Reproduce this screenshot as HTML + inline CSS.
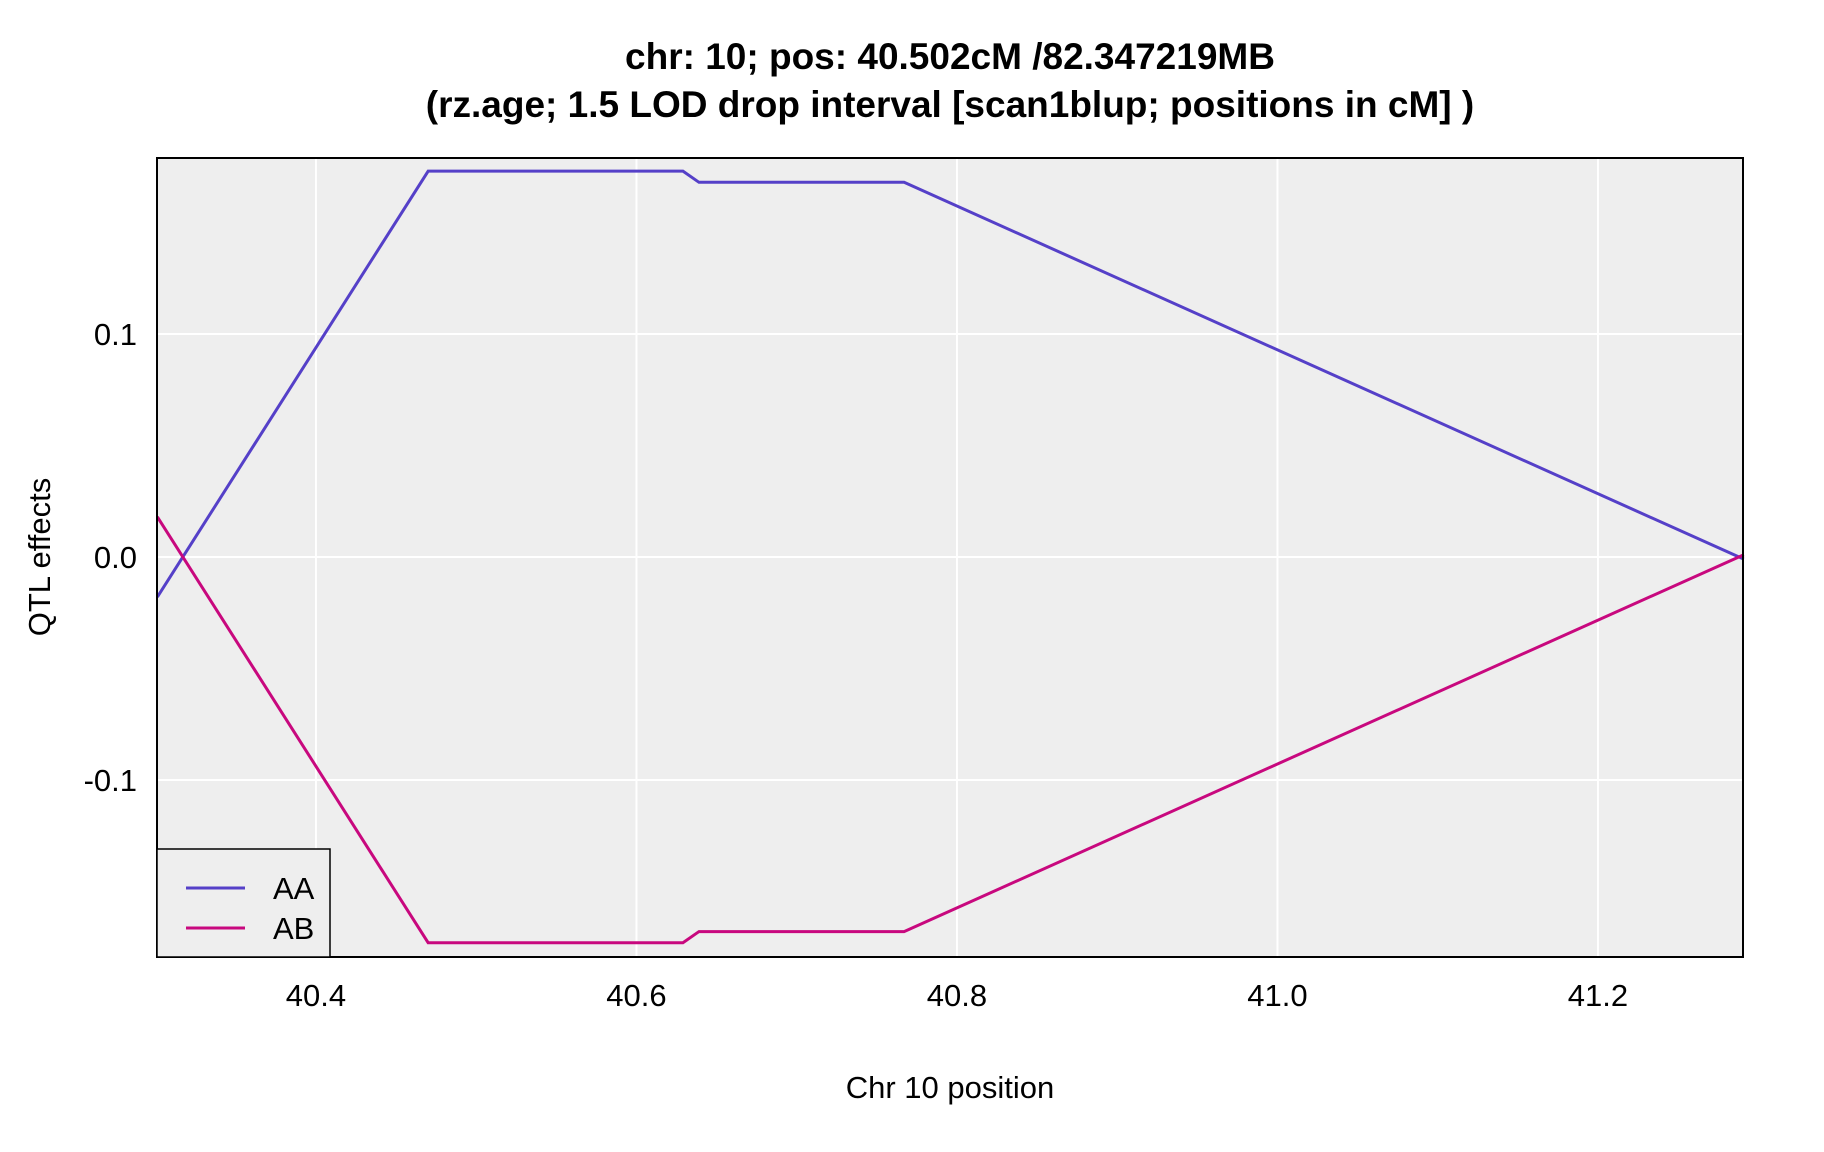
<!DOCTYPE html>
<html><head><meta charset="utf-8"><style>body{margin:0;background:#fff}svg{display:block;font-family:"Liberation Sans",Arial,sans-serif}</style></head>
<body>
<svg id="chart" width="1824" height="1152">
<text x="950" y="69" font-size="37" font-weight="bold" text-anchor="middle">chr: 10; pos: 40.502cM /82.347219MB</text>
<text x="950" y="117" font-size="37" font-weight="bold" text-anchor="middle">(rz.age; 1.5 LOD drop interval [scan1blup; positions in cM] )</text>
<rect x="157" y="158" width="1586" height="799" fill="#eeeeee"/>
<g id="grid"></g>
<g id="series"></g>
<rect x="157" y="158" width="1586" height="799" fill="none" stroke="#000" stroke-width="2"/>
<g id="axes"></g>
<text x="950" y="1098" font-size="31" text-anchor="middle">Chr 10 position</text>
<text transform="translate(50,557) rotate(-90)" font-size="31" text-anchor="middle">QTL effects</text>
<g>
<rect x="157" y="849" width="173" height="108" fill="#eeeeee" stroke="#000" stroke-width="1.5"/>
<line x1="186" y1="888" x2="245" y2="888" stroke="#5540c8" stroke-width="3"/>
<text x="273" y="899" font-size="31">AA</text>
<line x1="186" y1="928" x2="245" y2="928" stroke="#c8087e" stroke-width="3"/>
<text x="273" y="939" font-size="31">AB</text>
</g>
</svg>
<script>
const positions=[40.301,40.470,40.629,40.639,40.767,41.291];
const aaValues=[-0.018,0.173,0.173,0.168,0.168,-0.001];
const abValues=[0.018,-0.173,-0.173,-0.168,-0.168,0.001];
const xTicks=[40.4,40.6,40.8,41.0,41.2];
const xTickLabels=["40.4","40.6","40.8","41.0","41.2"];
const yTicks=[-0.1,0.0,0.1];
const yTickLabels=["-0.1","0.0","0.1"];
const X0=157,X1=1743,Y0=158,Y1=957,xmin=40.3008,xmax=41.2905,ymin=-0.1794,ymax=0.1789;
const sx=v=>X0+(v-xmin)/(xmax-xmin)*(X1-X0);
const sy=v=>Y1-(v-ymin)/(ymax-ymin)*(Y1-Y0);
const NS="http://www.w3.org/2000/svg";
const grid=document.getElementById('grid'),axes=document.getElementById('axes'),series=document.getElementById('series');
function mk(t,a){const e=document.createElementNS(NS,t);for(const k in a)e.setAttribute(k,a[k]);return e;}
xTicks.forEach((v,i)=>{
 const l=mk('line',{x1:sx(v),x2:sx(v),y1:Y0,y2:Y1,stroke:'#fff','stroke-width':2});
 
 
 grid.appendChild(l);
 const t=mk('text',{x:sx(v),y:1006,'font-size':31,'text-anchor':'middle'});
 t.textContent=xTickLabels[i];
 
 
 axes.appendChild(t);
});
yTicks.forEach((v,i)=>{
 const l=mk('line',{x1:X0,x2:X1,y1:sy(v),y2:sy(v),stroke:'#fff','stroke-width':2});
 
 
 grid.appendChild(l);
 const t=mk('text',{x:137,y:sy(v)+11,'font-size':31,'text-anchor':'end'});
 t.textContent=yTickLabels[i];
 
 
 axes.appendChild(t);
});
function line(vals,color,name){
 const p=mk('polyline',{points:positions.map((x,i)=>sx(x)+','+sy(vals[i])).join(' '),fill:'none',stroke:color,'stroke-width':3});
 
 
 series.appendChild(p);
}
line(aaValues,'#5540c8','series-aa-line');
line(abValues,'#c8087e','series-ab-line');
</script>
</body></html>
